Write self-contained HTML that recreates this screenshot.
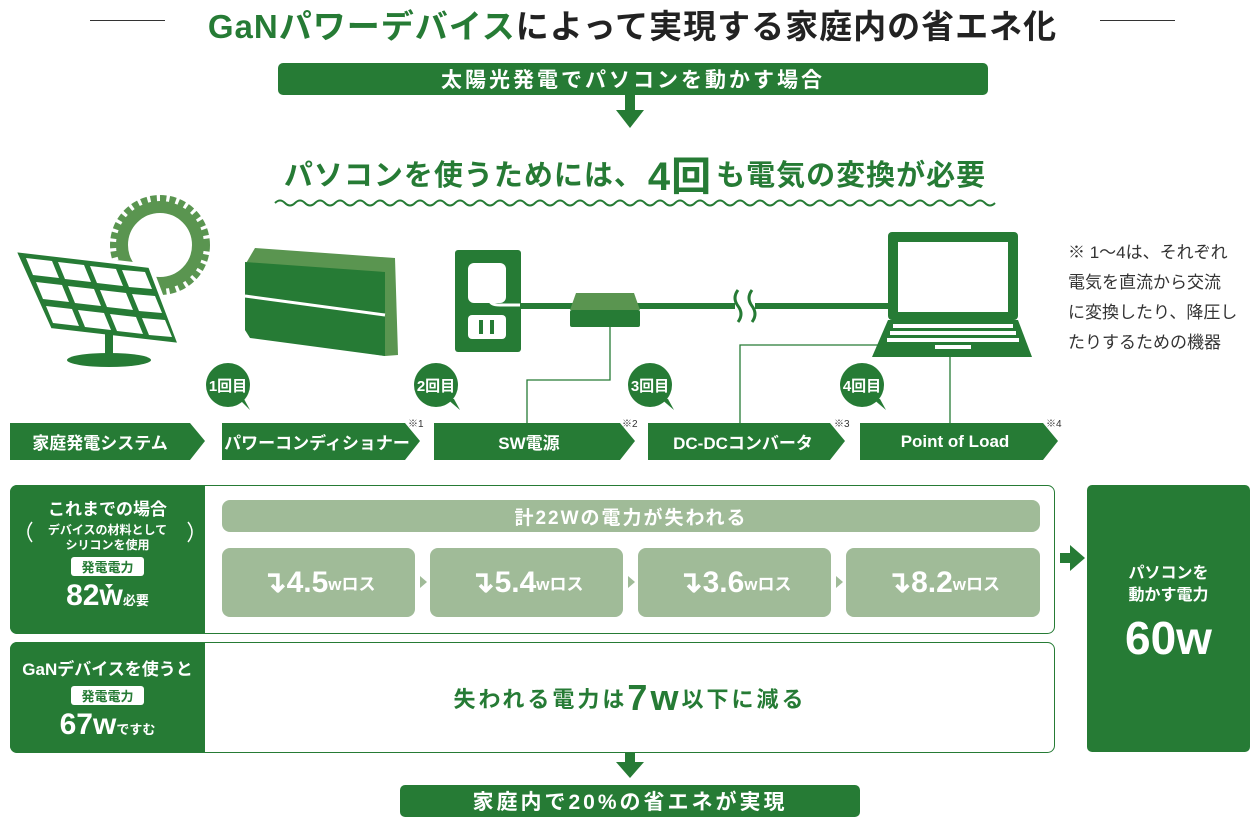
<!DOCTYPE html>
<html><head><meta charset="utf-8"><style>
*{margin:0;padding:0;box-sizing:border-box}
body{width:1260px;height:820px;background:#fff;position:relative;overflow:hidden;font-family:"Liberation Sans","Noto Sans CJK JP",sans-serif}
.a{position:absolute}
.g{background:#267b35;color:#fff}
.c{display:flex;align-items:center;justify-content:center;text-align:center}
.lg{background:#a0bb98;color:#fff}
.loss{border-radius:8px;font-weight:bold;font-size:30px}
.loss small{font-size:17px}
.bal{width:44px;height:44px;border-radius:50%;background:#267b35;color:#fff;font-weight:bold;font-size:15px}
.lab{color:#fff;font-weight:bold;font-size:17px}
.star{font-size:10px;color:#333}
</style></head><body>
<div class="a" style="left:90px;top:20px;width:75px;height:1px;background:#333"></div>
<div class="a" style="left:1100px;top:20px;width:75px;height:1px;background:#333"></div>
<div class="a c" style="left:165px;top:3px;width:935px;height:42px;font-size:33px;font-weight:bold;color:#222;letter-spacing:1px"><span style="color:#267b35">GaNパワーデバイス</span>によって実現する家庭内の省エネ化</div>
<div class="a g c" style="left:278px;top:63px;width:710px;height:32px;border-radius:5px;font-size:21px;font-weight:bold;letter-spacing:3px">太陽光発電でパソコンを動かす場合</div>
<svg class="a" style="left:0;top:0" width="1260" height="820">
<rect x="625" y="95" width="10" height="16" fill="#267b35"/><polygon points="616,110 644,110 630,128" fill="#267b35"/>
<path d="M275 203 q5 -5 10 0 t10 0 t10 0 t10 0 t10 0 t10 0 t10 0 t10 0 t10 0 t10 0 t10 0 t10 0 t10 0 t10 0 t10 0 t10 0 t10 0 t10 0 t10 0 t10 0 t10 0 t10 0 t10 0 t10 0 t10 0 t10 0 t10 0 t10 0 t10 0 t10 0 t10 0 t10 0 t10 0 t10 0 t10 0 t10 0 t10 0 t10 0 t10 0 t10 0 t10 0 t10 0 t10 0 t10 0 t10 0 t10 0 t10 0 t10 0 t10 0 t10 0 t10 0 t10 0 t10 0 t10 0 t10 0 t10 0 t10 0 t10 0 t10 0 t10 0 t10 0 t10 0 t10 0 t10 0 t10 0 t10 0 t10 0 t10 0 t10 0 t10 0 t10 0 t10 0" fill="none" stroke="#267b35" stroke-width="2"/>
<circle cx="160" cy="245" r="44" fill="none" stroke="#5a9550" stroke-width="12" stroke-dasharray="6 3"/>
<circle cx="160" cy="245" r="38" fill="none" stroke="#5a9550" stroke-width="12"/>
<polygon points="14,250 150,266 180,345 50,330" fill="#267b35" stroke="#fff" stroke-width="4"/>
<g fill="#fff"><polygon points="26,258 52,261 59,278 33,275"/><polygon points="58,262 84,265 91,282 65,279"/><polygon points="90,266 116,269 123,286 97,283"/><polygon points="122,270 145,272 152,289 129,287"/>
<polygon points="36,282 62,285 69,302 43,299"/><polygon points="68,286 94,289 101,306 75,303"/><polygon points="100,290 126,293 133,310 107,307"/><polygon points="132,294 155,296 162,313 139,311"/>
<polygon points="46,306 72,309 79,326 53,323"/><polygon points="78,310 104,313 111,330 85,327"/><polygon points="110,314 136,317 143,334 117,331"/><polygon points="142,318 165,320 172,337 149,335"/></g>
<rect x="105" y="330" width="8" height="28" fill="#267b35"/><ellipse cx="109" cy="360" rx="42" ry="7" fill="#267b35"/>
<polygon points="245,265 255,248 395,258 398,355 385,356 250,336 245,330" fill="#5a9550"/>
<polygon points="245,262 385,272 385,356 250,338 245,330" fill="#267b35"/>
<line x1="245" y1="296" x2="385" y2="315" stroke="#fff" stroke-width="3"/>
<rect x="455" y="250" width="66" height="102" rx="3" fill="#267b35"/>
<rect x="468" y="263" width="38" height="40" rx="6" fill="#fff"/>
<rect x="468" y="315" width="38" height="24" rx="4" fill="#fff"/>
<rect x="479" y="320" width="4" height="14" fill="#267b35"/><rect x="490" y="320" width="4" height="14" fill="#267b35"/>
<path d="M490 285 v15 q0 5 10 5 h20" fill="none" stroke="#fff" stroke-width="3"/>
<line x1="520" y1="306" x2="735" y2="306" stroke="#267b35" stroke-width="6"/>
<line x1="755" y1="306" x2="890" y2="306" stroke="#267b35" stroke-width="6"/>
<path d="M738 290 q-6 8 0 16 q6 8 0 16 M752 290 q-6 8 0 16 q6 8 0 16" fill="none" stroke="#267b35" stroke-width="3"/>
<polygon points="576,293 634,293 640,310 570,310" fill="#5a9550"/>
<rect x="570" y="310" width="70" height="17" rx="2" fill="#267b35"/>
<rect x="888" y="232" width="130" height="88" rx="4" fill="#267b35"/>
<rect x="898" y="242" width="110" height="70" fill="#fff"/>
<polygon points="888,320 1018,320 1032,357 872,357" fill="#267b35"/>
<g fill="#fff"><rect x="893" y="324" width="120" height="4"/><rect x="890" y="331" width="126" height="4"/><rect x="887" y="338" width="132" height="4"/></g>
<rect x="935" y="345" width="36" height="4" fill="#fff"/>
<g stroke="#267b35" stroke-width="1.3" fill="none"><path d="M610 327 V380 H527 V423"/><path d="M905 345 H740 V423"/><path d="M950 357 V423"/></g>
<g fill="#267b35">
<polygon points="10,423 190,423 205,441 190,460 10,460"/>
<polygon points="222,423 405,423 420,441 405,460 222,460"/>
<polygon points="434,423 620,423 635,441 620,460 434,460"/>
<polygon points="648,423 830,423 845,441 830,460 648,460"/>
<polygon points="860,423 1043,423 1058,441 1043,460 860,460"/>
<polygon points="238,398 250,410 244,399"/><polygon points="446,398 460,410 454,399"/><polygon points="660,398 674,410 668,399"/><polygon points="872,398 886,410 880,399"/>
</g>
<rect x="10.5" y="485.5" width="1044" height="148" rx="7" fill="none" stroke="#267b35"/>
<rect x="10.5" y="642.5" width="1044" height="110" rx="7" fill="none" stroke="#267b35"/>
<path d="M17 485 H205 V634 H17 a7 7 0 0 1 -7 -7 V492 a7 7 0 0 1 7 -7z" fill="#267b35"/>
<path d="M17 642 H205 V753 H17 a7 7 0 0 1 -7 -7 V649 a7 7 0 0 1 7 -7z" fill="#267b35"/>
<g fill="#a0bb98"><polygon points="420,576 427,582 420,588"/><polygon points="628,576 635,582 628,588"/><polygon points="836,576 843,582 836,588"/></g>
<rect x="1060" y="553" width="12" height="10" fill="#267b35"/><polygon points="1070,545 1085,558 1070,571" fill="#267b35"/>
<rect x="625" y="752" width="10" height="12" fill="#267b35"/><polygon points="616,762 644,762 630,778" fill="#267b35"/>
<path d="M32 522 q-8 10 0 20 M188 522 q8 10 0 20" stroke="#fff" stroke-width="1.5" fill="none"/>
<polygon points="105,584 109,589 113,584" fill="#fff"/><polygon points="105,700 109,705 113,700" fill="#fff"/>
</svg>
<div class="a c" style="left:270px;top:150px;width:730px;height:46px;font-size:29px;font-weight:bold;color:#267b35;letter-spacing:1px">パソコンを使うためには、<span style="font-size:40px;margin:0 4px">4回</span>も電気の変換が必要</div>
<div class="a" style="left:1068px;top:238px;font-size:17px;line-height:30px;color:#333">※ 1～4は、それぞれ<br>電気を直流から交流<br>に変換したり、降圧し<br>たりするための機器</div>
<div class="a bal c" style="left:206px;top:363px">1回目</div>
<div class="a bal c" style="left:414px;top:363px">2回目</div>
<div class="a bal c" style="left:628px;top:363px">3回目</div>
<div class="a bal c" style="left:840px;top:363px">4回目</div>
<div class="a lab c" style="left:10px;top:423px;width:180px;height:37px">家庭発電システム</div>
<div class="a lab c" style="left:222px;top:423px;width:190px;height:37px">パワーコンディショナー</div>
<div class="a lab c" style="left:434px;top:423px;width:190px;height:37px">SW電源</div>
<div class="a lab c" style="left:648px;top:423px;width:190px;height:37px">DC-DCコンバータ</div>
<div class="a lab c" style="left:860px;top:423px;width:190px;height:37px">Point of Load</div>
<div class="a star" style="left:408px;top:415px">※1</div><div class="a star" style="left:622px;top:415px">※2</div><div class="a star" style="left:834px;top:415px">※3</div><div class="a star" style="left:1046px;top:415px">※4</div>
<div class="a" style="left:10px;top:495px;width:195px;text-align:center;color:#fff;font-weight:bold">
<div style="font-size:17px">これまでの場合</div>
<div style="font-size:12px;line-height:15px;margin-top:3px">デバイスの材料として<br>シリコンを使用</div>
<div style="display:inline-block;background:#fff;color:#267b35;font-size:13px;padding:0 10px;border-radius:3px;margin-top:4px">発電電力</div>
<div style="font-size:30px;line-height:34px;margin-top:2px">82w<small style="font-size:13px">必要</small></div></div>
<div class="a" style="left:10px;top:655px;width:195px;text-align:center;color:#fff;font-weight:bold">
<div style="font-size:17px">GaNデバイスを使うと</div>
<div style="display:inline-block;background:#fff;color:#267b35;font-size:13px;padding:0 10px;border-radius:3px;margin-top:6px">発電電力</div>
<div style="font-size:30px;line-height:34px;margin-top:2px">67w<small style="font-size:13px">ですむ</small></div></div>
<div class="a lg c" style="left:222px;top:500px;width:818px;height:32px;border-radius:8px;font-size:19px;font-weight:bold;letter-spacing:2px">計22Wの電力が失われる</div>
<div class="a lg c loss" style="left:222px;top:548px;width:193px;height:69px">↴4.5<small>wロス</small></div>
<div class="a lg c loss" style="left:430px;top:548px;width:193px;height:69px">↴5.4<small>wロス</small></div>
<div class="a lg c loss" style="left:638px;top:548px;width:193px;height:69px">↴3.6<small>wロス</small></div>
<div class="a lg c loss" style="left:846px;top:548px;width:194px;height:69px">↴8.2<small>wロス</small></div>
<div class="a c" style="left:205px;top:670px;width:850px;height:56px;font-size:22px;font-weight:bold;color:#267b35;letter-spacing:3px">失われる電力は<span style="font-size:36px">7w</span>以下に減る</div>
<div class="a g" style="left:1087px;top:485px;width:163px;height:267px;border-radius:5px;text-align:center;font-weight:bold;padding-top:78px">
<div style="font-size:16px;line-height:22px">パソコンを<br>動かす電力</div><div style="font-size:46px;margin-top:4px">60w</div></div>
<div class="a g c" style="left:400px;top:785px;width:460px;height:32px;border-radius:5px;font-size:21px;font-weight:bold;letter-spacing:3px">家庭内で20%の省エネが実現</div>
</body></html>
